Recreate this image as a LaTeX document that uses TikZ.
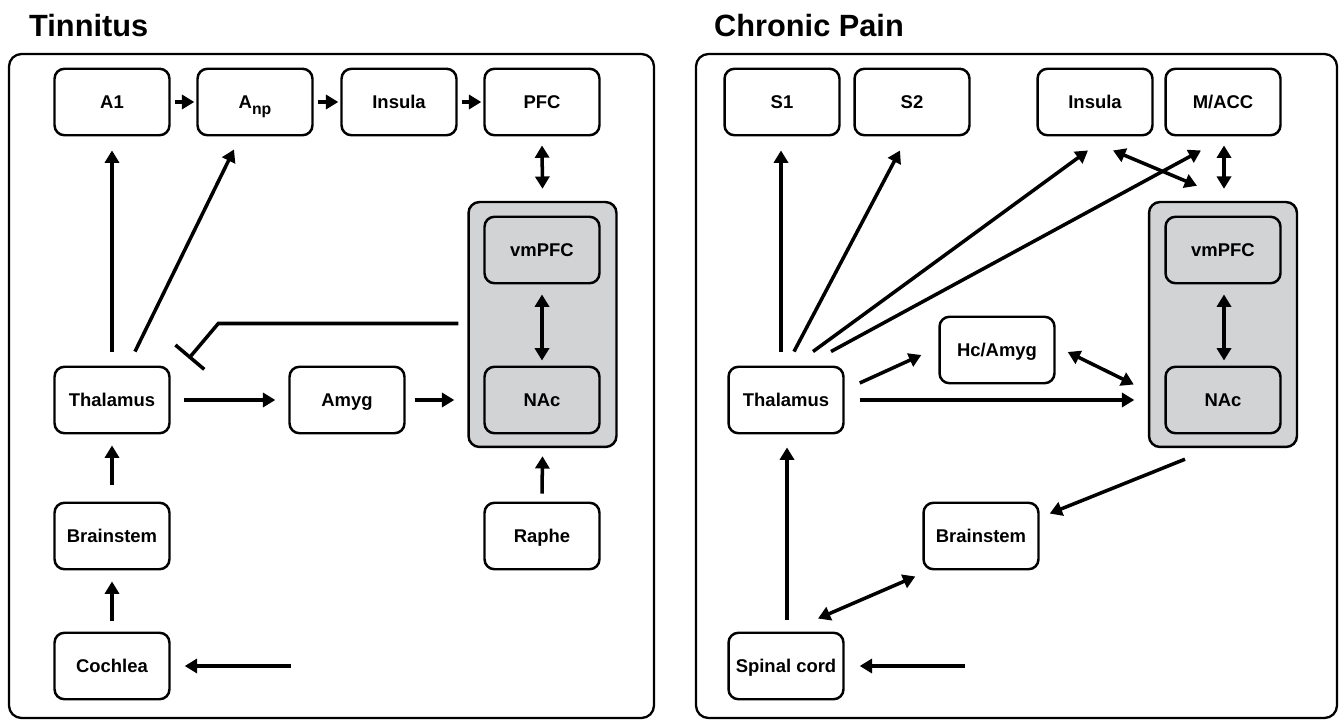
\documentclass[tikz,border=0pt]{standalone}
\usepackage{fontspec}
\setmainfont{Liberation Sans}
\usetikzlibrary{arrows.meta}
\definecolor{hubgray}{RGB}{210,211,213}

\begin{document}
\begin{tikzpicture}[x=0.02cm, y=-0.02cm,
  every node/.style={font=\fontsize{10.5}{12}\selectfont\bfseries},
  region/.style={draw, line width=1.4pt, rounded corners=0.2cm, fill=white, minimum width=2.3cm, minimum height=1.33cm, inner sep=0pt, text height=7.6pt, text depth=0pt},
  hub/.style={draw, line width=1.4pt, rounded corners=0.22cm, fill=hubgray, minimum width=2.96cm, minimum height=4.9cm},
  panel/.style={draw, line width=1.3pt, rounded corners=0.25cm},
  arr/.style={-{Triangle[length=7pt,width=8pt]}, line width=2pt},
  both/.style={{Triangle[length=7pt,width=8pt]}-{Triangle[length=7pt,width=8pt]}, line width=2pt},
  inh/.style={-{Bar[width=21.5pt]}, line width=2pt},
  title/.style={font=\fontsize{17.5}{20}\selectfont\bfseries, anchor=base west}]
  \useasboundingbox (0,0) rectangle (1342,722);

  % Tinnitus
  \node[title] (ttlL) at (23,37) {Tinnitus};
  \draw[panel] (9,54) rectangle (654,718);
  \node[region] (a1) at (112,102) {A1};
  \node[region] (anp) at (255,102) {A\raisebox{-0.6ex}{\fontsize{9}{9}\selectfont np}};
  \node[region] (insL) at (399,102) {Insula};
  \node[region] (pfc) at (542,102) {PFC};
  \node[hub] (hubL) at (542.5,324.5) {};
  \node[region, fill=hubgray] (vmL) at (542,250) {vmPFC};
  \node[region, fill=hubgray] (nacL) at (542,400) {NAc};
  \node[region] (thalL) at (112,400) {Thalamus};
  \node[region] (amyg) at (347,400) {Amyg};
  \node[region] (bsL) at (112,536) {Brainstem};
  \node[region] (raphe) at (542,536) {Raphe};
  \node[region] (coch) at (112,666) {Cochlea};
  \coordinate (inL) at (291,666);

  \draw[arr] ([shift={(4,0)}]a1.east) -- ([shift={(-2,0)}]anp.west);
  \draw[arr] ([shift={(4,0)}]anp.east) -- ([shift={(-2,0)}]insL.west);
  \draw[arr] ([shift={(4,0)}]insL.east) -- ([shift={(-2,0)}]pfc.west);
  \draw[both] ([shift={(0,9)}]pfc.south) -- ([shift={(0,-12)}]hubL.north);
  \draw[both] ([shift={(0,10)}]vmL.south) -- ([shift={(0,-5)}]nacL.north);
  \draw[arr] ([shift={(0,-14)}]thalL.north) -- ([shift={(0,14)}]a1.south);
  \draw[arr] ([shift={(23,-14)}]thalL.north) -- ([shift={(-21,13)}]anp.south);
  \draw[inh] ([shift={(-9,-1)}]hubL.west) -- ++(-240,0) -- ([shift={(18,-7)}]thalL.north east);
  \draw[arr] ([shift={(13,0)}]thalL.east) -- ([shift={(-13,0)}]amyg.west);
  \draw[arr] ([shift={(9,0)}]amyg.east) -- ([shift={(-29,0)}]nacL.west);
  \draw[arr] ([shift={(0,-8)}]raphe.north) -- ([shift={(0,8)}]hubL.south);
  \draw[arr] ([shift={(0,-17)}]bsL.north) -- ([shift={(0,11)}]thalL.south);
  \draw[arr] ([shift={(0,-11)}]coch.north) -- ([shift={(0,11)}]bsL.south);
  \draw[arr] (inL) -- ([shift={(14,0)}]coch.east);

  % Chronic pain
  \node[title] (ttlR) at (708,37) {Chronic Pain};
  \draw[panel] (696,54) rectangle (1337,718);
  \node[region] (s1) at (782,102) {S1};
  \node[region] (s2) at (912,102) {S2};
  \node[region] (insR) at (1095,102) {Insula};
  \node[region] (macc) at (1223,102) {M/ACC};
  \node[hub] (hubR) at (1223,324.5) {};
  \node[region, fill=hubgray] (vmR) at (1223,250) {vmPFC};
  \node[region, fill=hubgray] (nacR) at (1223,400) {NAc};
  \node[region] (hc) at (997,350) {Hc/Amyg};
  \node[region] (thalR) at (786,400) {Thalamus};
  \node[region] (bsR) at (981,536) {Brainstem};
  \node[region] (spin) at (786,666) {Spinal cord};
  \coordinate (inR) at (965,666);

  \draw[arr] ([shift={(-5,-14)}]thalR.north) -- ([shift={(-1,14)}]s1.south);
  \draw[arr] ([shift={(8,-14)}]thalR.north) -- ([shift={(-12,14)}]s2.south);
  \draw[arr] ([shift={(27,-14)}]thalR.north) -- ([shift={(-7,14)}]insR.south);
  \draw[arr] ([shift={(45,-14)}]thalR.north) -- ([shift={(-22,14)}]macc.south);
  \draw[both] ([shift={(18,14)}]insR.south) -- ([shift={(-26,-15)}]hubR.north);
  \draw[both] ([shift={(1,9)}]macc.south) -- ([shift={(1,-12)}]hubR.north);
  \draw[both] ([shift={(1,10)}]vmR.south) -- ([shift={(1,-5)}]nacR.north);
  \draw[arr] ([shift={(15,-17)}]thalR.east) -- ([shift={(-17,5)}]hc.west);
  \draw[both] ([shift={(12,2)}]hc.east) -- ([shift={(-14,60)}]hubR.west);
  \draw[arr] ([shift={(15,0)}]thalR.east) -- ([shift={(-30,0)}]nacR.west);
  \draw[arr] ([shift={(-38,11)}]hubR.south) -- ([shift={(10,12)}]bsR.north east);
  \draw[both] ([shift={(32,-13)}]spin.north) -- ([shift={(-7,6)}]bsR.south west);
  \draw[arr] ([shift={(1,-12)}]spin.north) -- ([shift={(1,13)}]thalR.south);
  \draw[arr] (inR) -- ([shift={(15,0)}]spin.east);
\end{tikzpicture}
\end{document}
